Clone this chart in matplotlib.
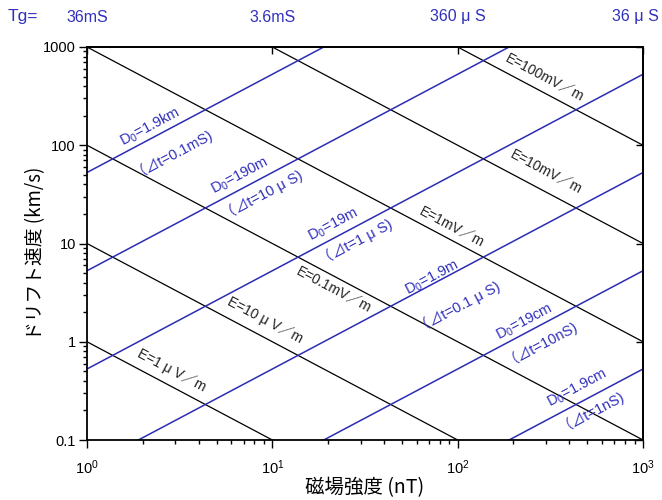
import numpy as np
import matplotlib
matplotlib.use("Agg")
import matplotlib.pyplot as plt
import matplotlib.transforms as mtransforms
from matplotlib.ticker import FixedLocator, LogLocator, NullFormatter, NullLocator

plt.rcParams['font.family'] = ['Liberation Sans', 'Noto Sans CJK JP', 'DejaVu Sans']
plt.rcParams['mathtext.fontset'] = 'custom'
plt.rcParams['mathtext.rm'] = 'Liberation Sans'
plt.rcParams['mathtext.it'] = 'Liberation Sans'

# electric field lines: drift speed (km/s) at B = 1 nT
e_labels = ["E=1 μ V／m", "E=10 μ V／m", "E=0.1mV／m", "E=1mV／m", "E=10mV／m", "E=100mV／m"]
e_speed_1nT = [1, 10, 100, 1000, 1e4, 1e5]

# gyro-distance lines: drift speed (km/s) at B = 1 nT
d0_labels = ["D$_0$=1.9km", "D$_0$=190m", "D$_0$=19m", "D$_0$=1.9m", "D$_0$=19cm", "D$_0$=1.9cm"]
dt_labels = ["（⊿t=0.1mS)", "（⊿t=10 μ S)", "（⊿t=1 μ S)", "（⊿t=0.1 μ S)", "（⊿t=10nS)", "（⊿t=1nS)"]
d0_speed_1nT = [52.8, 5.28, 0.528, 0.0528, 0.00528, 0.000528]

# gyro period at the decade fields
tg_fields = [1, 10, 100, 1000]
tg_labels = ["36mS", "3.6mS", "360 μ S", "36 μ S"]

y_ticks = [0.1, 1, 10, 100, 1000]
y_ticklabels = ["0.1", "1", "10", "100", "1000"]

# label placement (data coords, layout only)
e_label_pos = [(2.87, 0.515), (9.13, 1.66), (21.5, 3.37), (93.2, 14.7), (300, 53.4), (296, 483)]
d0_label_pos = [(2.19, 153), (6.69, 48.6), (21.3, 15.4), (72.7, 4.46), (231, 1.59), (440, 0.338)]
dt_label_pos = [(2.87, 89.5), (8.79, 31.2), (27.9, 10.4), (100.4, 2.26), (278, 1.04), (518, 0.212)]

BLUE = '#2c2cb4'
TEXT_BLUE = '#3030bc'

fig = plt.figure(figsize=(6.62, 5), dpi=100)
ax = fig.add_axes([87 / 662, 60 / 500, 556 / 662, 393 / 500])
ax.set_xscale('log')
ax.set_yscale('log')
ax.set_xlim(1, 1000)
ax.set_ylim(0.1, 1000)

b = np.array([1.0, 1000.0])
for v in e_speed_1nT:
    ax.plot(b, v / b, color='black', lw=0.9)
for v in d0_speed_1nT:
    ax.plot(b, v * b, color=BLUE, lw=1.1)

# slope angle of the lines on screen
p0 = ax.transData.transform((1, 1))
p1 = ax.transData.transform((10, 10))
ang = np.degrees(np.arctan2(p1[1] - p0[1], p1[0] - p0[0]))

for txt, (x, y) in zip(e_labels, e_label_pos):
    ax.text(x, y, txt, rotation=-ang, ha='center', va='center', fontsize=10,
            color='#222222', rotation_mode='anchor')
for txt, (x, y) in zip(d0_labels, d0_label_pos):
    ax.text(x, y, txt, rotation=ang, ha='center', va='center', fontsize=10.5,
            color=TEXT_BLUE, rotation_mode='anchor')
for txt, (x, y) in zip(dt_labels, dt_label_pos):
    ax.text(x, y, txt, rotation=ang, ha='center', va='center', fontsize=10.5,
            color=TEXT_BLUE, rotation_mode='anchor')

# ticks
ax.yaxis.set_major_locator(FixedLocator(y_ticks))
ax.set_yticklabels(y_ticklabels)
ax.yaxis.set_minor_locator(LogLocator(base=10, subs=np.arange(2, 10)))
ax.yaxis.set_minor_formatter(NullFormatter())
ax.xaxis.set_major_locator(FixedLocator(tg_fields))
ax.set_xticklabels([f"$10^{{{int(np.log10(f))}}}$" for f in tg_fields])
ax.xaxis.set_minor_locator(LogLocator(base=10, subs=np.arange(2, 10)))
ax.xaxis.set_minor_formatter(NullFormatter())
ax.tick_params(which='major', direction='out', length=6, width=1, labelsize=10.5, pad=2)
ax.tick_params(which='minor', direction='out', length=3, width=1)
ax.tick_params(axis='x', which='major', pad=7)
for s in ax.spines.values():
    s.set_linewidth(1.3)

# small inward ticks on top and right
top = ax.secondary_xaxis('top')
top.xaxis.set_major_locator(FixedLocator(tg_fields))
top.xaxis.set_minor_locator(NullLocator())
top.tick_params(direction='in', length=5, width=1, labeltop=False)
right = ax.secondary_yaxis('right')
right.yaxis.set_major_locator(FixedLocator(y_ticks))
right.yaxis.set_minor_locator(NullLocator())
right.tick_params(direction='in', length=5, width=1, labelright=False)
for sec in (top, right):
    for s in sec.spines.values():
        s.set_linewidth(1.3)

ax.set_xlabel("磁場強度 (nT)", fontsize=14, family=['Noto Sans CJK JP', 'DejaVu Sans'])
ax.set_ylabel("ドリフト速度 (km/s)", fontsize=13.5, family=['Noto Sans CJK JP', 'DejaVu Sans'])
ax.xaxis.set_label_coords(0.5, (440 - 477) / 393)
ax.yaxis.set_label_coords((46 - 87) / 556, (440 - 253) / 393)

# gyro period header
fig.text(8 / 662, 1 - 17 / 500, "Tg=", ha='left', va='center', fontsize=12.5, color=TEXT_BLUE)
trans = mtransforms.blended_transform_factory(ax.transData, fig.transFigure)
for f, lab in zip(tg_fields[:-1], tg_labels[:-1]):
    ax.text(f, 1 - 17 / 500, lab, transform=trans, ha='center', va='center',
            fontsize=11.5, color=TEXT_BLUE)
fig.text(0.995, 1 - 17 / 500, tg_labels[-1], ha='right', va='center', fontsize=11.5, color=TEXT_BLUE)

fig.savefig("out.png", dpi=100)
